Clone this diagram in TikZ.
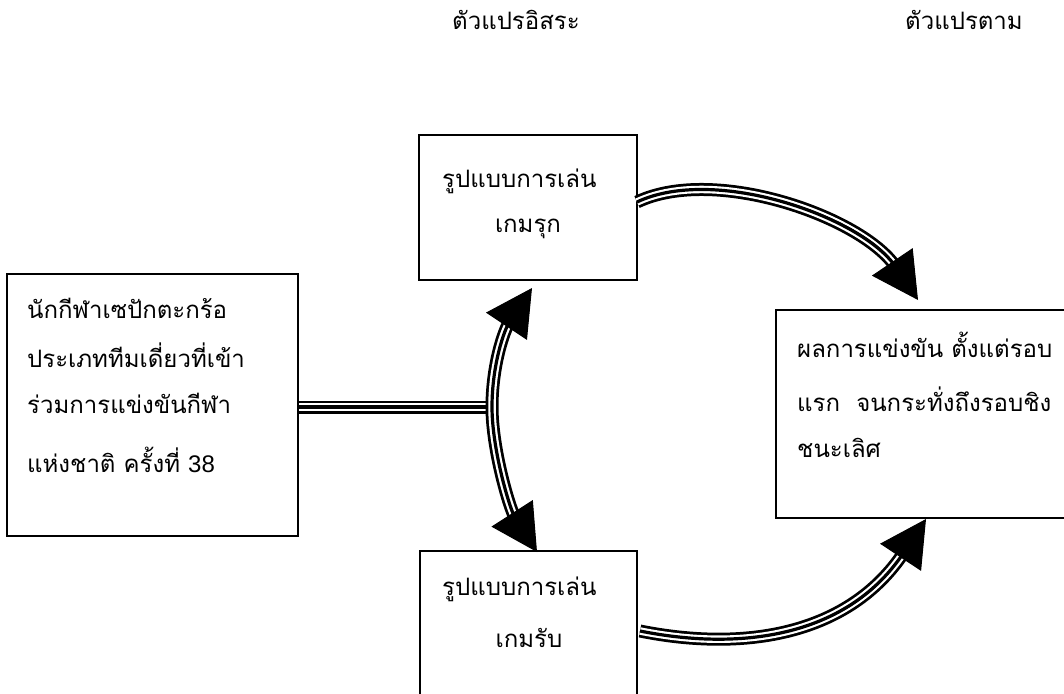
\documentclass[tikz,border=0pt]{standalone}
\usepackage{fontspec}
\setmainfont{Liberation Sans}
\newfontfamily\thaifont[Script=Thai]{Loma}
\usetikzlibrary{arrows.meta}
\tikzset{
  box/.style={draw, line width=2pt, inner sep=0pt},
  txt/.style={font=\thaifont\fontsize{24}{24}\selectfont, inner sep=0pt, anchor=base west},
  ctxt/.style={txt, anchor=base},
  tiparrow/.style={-{Triangle[length=46pt,width=49pt]}, line width=1pt}
}
\newcommand\triline[2]{%
  \draw[line width=13pt,#1] #2;
  \draw[white,line width=7.5pt,#1] #2;
  \draw[line width=3.2pt,#1] #2;}
\begin{document}
\begin{tikzpicture}[x=1pt,y=-1pt]
\useasboundingbox (0,0) rectangle (1064,693);
\fill[white] (0,0) rectangle (1064,693);
\clip (0,0) rectangle (1064,693);

% boxes
\node[box, minimum width=218pt, minimum height=145pt] (top) at (528,207.5) {};
\node[box, minimum width=217pt, minimum height=200pt] (bot) at (528.5,651) {};
\node[box, minimum width=291pt, minimum height=262pt] (left) at (152.5,405) {};
\node[box, minimum width=320pt, minimum height=208pt] (right) at (936,414) {};

% headers
\node[txt] (h1) at (452,30) {ตัวแปรอิสระ};
\node[txt] (h2) at (905,30) {ตัวแปรตาม};

% texts
\node[txt] (t1a) at (442,187) {รูปแบบการเล่น};
\node[ctxt] (t1b) at (528,232) {เกมรุก};
\node[txt] (t2a) at (442,595) {รูปแบบการเล่น};
\node[ctxt] (t2b) at (529,647) {เกมรับ};
\node[txt] (l1) at (27,318) {นักกีฬาเซปักตะกร้อ};
\node[txt] (l2) at (27,367) {ประเภททีมเดี่ยวที่เข้า};
\node[txt] (l3) at (27,413) {ร่วมการแข่งขันกีฬา};
\node[txt] (l4) at (27,472) {แห่งชาติ ครั้งที่ {\rmfamily 38}};
\node[txt] (r1) at (797,357) {ผลการแข่งขัน ตั้งแต่รอบ};
\node[txt] (r2) at (797,411) {แรก\ \ จนกระทั่งถึงรอบชิง};
\node[txt] (r3) at (797,457) {ชนะเลิศ};

% connector points
\coordinate (J) at (492,407);
\coordinate (T1) at (532,288);
\coordinate (T2) at (537,552);
\coordinate (A1) at (637,202);
\coordinate (H1) at (918,300);
\coordinate (B1) at (640,631);
\coordinate (H2) at (926,519);

% left box to arc
\triline{}{(left.east |- J) -- (J)}
% arc between top and bottom boxes
\triline{shorten <=40pt, shorten >=40pt}{(T1) .. controls (504,330) and (492,365) .. (J) .. controls (492,450) and (510,510) .. (T2)}
\draw[tiparrow] (J) .. controls (492,365) and (504,330) .. (T1);
\draw[tiparrow] (J) .. controls (492,450) and (510,510) .. (T2);

% top box to right box
\triline{shorten >=40pt}{(A1) .. controls (715,165) and (862,217) .. (H1)}
\draw[tiparrow] (A1) .. controls (715,165) and (862,217) .. (H1);

% bottom box to right box
\triline{shorten >=40pt}{(B1) .. controls (745,652) and (849,635) .. (H2)}
\draw[tiparrow] (B1) .. controls (745,652) and (849,635) .. (H2);
\end{tikzpicture}
\end{document}
